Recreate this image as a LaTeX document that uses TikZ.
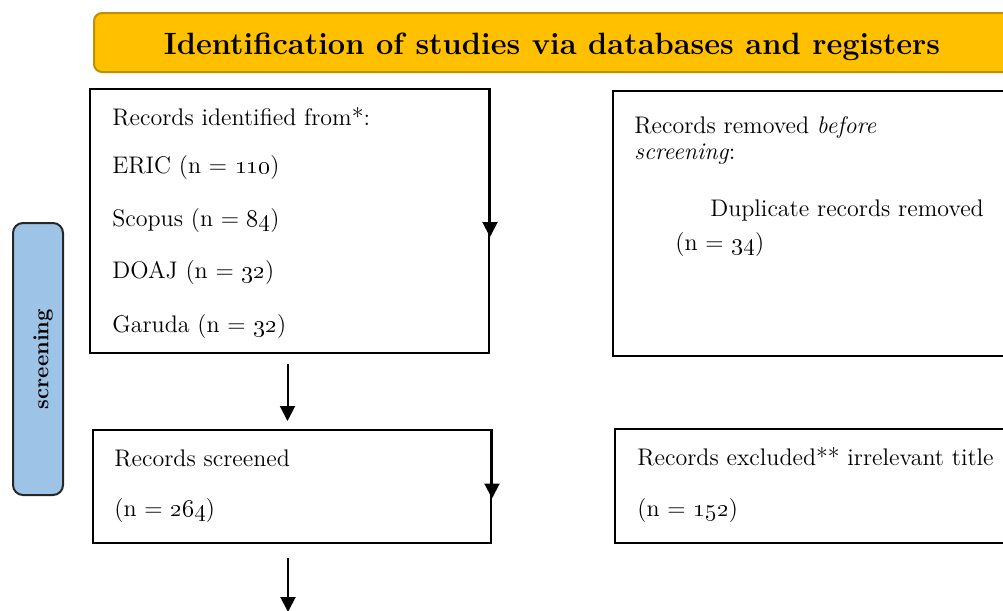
\documentclass[tikz,border=0pt]{standalone}
\usetikzlibrary{arrows.meta,fit}
\definecolor{titlegold}{HTML}{FFC000}
\definecolor{titleedge}{HTML}{BF9000}
\definecolor{sideblue}{HTML}{9DC3E6}
\begin{document}
\begin{tikzpicture}[x=0.5pt,y=-0.5pt,
	box/.style={draw,line width=1pt,inner sep=0pt},
	txt/.style={anchor=west,inner sep=0pt,font=\fontsize{12}{14}\selectfont},
	arr/.style={line width=1pt,-{Triangle[length=7.5pt,width=7.5pt]}}]
\useasboundingbox (0,0) rectangle (1003,611);
\clip (0,0) rectangle (1003,611);
\node[box,fill=titlegold,draw=titleedge,rounded corners=4pt,fit={(94,13) (1020,72)}] (title) {};
\node[inner sep=0pt,font=\bfseries\fontsize{15.4}{18}\selectfont] (titletext) at (552,47) {Identification of studies via databases and registers};
\node[box,fill=sideblue,draw=black!85,rounded corners=5pt,fit={(13,223) (63,495)}] (side) {};
\node[rotate=90,inner sep=0pt,font=\bfseries\fontsize{11}{13}\selectfont] (sidetext) at ([xshift=2.5pt]side.center) {screening};
\node[box,fit={(90,89) (489,353)}] (ident) {};
\node[txt] (ident1) at (112,117) {Records identified from*:};
\node[txt] (ident2) at (112,168) {ERIC (n = \oldstylenums{110})};
\node[txt] (ident3) at (112,221) {Scopus (n = \oldstylenums{84})};
\node[txt] (ident4) at (112,273) {DOAJ (n = \oldstylenums{32})};
\node[txt] (ident5) at (112,327) {Garuda (n = \oldstylenums{32})};
\node[box,fit={(613,91) (1020,356)}] (removed) {};
\node[txt] (removed1) at (634,127) {Records removed \textit{before}};
\node[txt] (removed2) at (634,154) {\textit{screening}:};
\node[txt] (removed3) at (710,210) {Duplicate records removed};
\node[txt] (removed4) at (675,245) {(n = \oldstylenums{34})};
\node[box,fit={(93,430) (491,543)}] (screened) {};
\node[txt] (screened1) at (114,458) {Records screened};
\node[txt] (screened2) at (114,511) {(n = \oldstylenums{264})};
\node[box,fit={(615,429) (1020,543)}] (excluded) {};
\node[txt] (excluded1) at (637,457) {Records excluded** irrelevant title};
\node[txt] (excluded2) at (637,511) {(n = \oldstylenums{152})};
\coordinate (next) at (288,612);
\draw[arr] (ident.north east) -- ([yshift=-8pt]ident.east);
\draw[arr] ([xshift=-1pt,yshift=-5pt]ident.south) -- ([xshift=-1pt,yshift=4pt]ident.south |- screened.north);
\draw[arr] (screened.north east) -- ([yshift=-6pt]screened.east);
\draw[arr] ([yshift=-7pt]screened.south -| next) -- (next);
\end{tikzpicture}
\end{document}
